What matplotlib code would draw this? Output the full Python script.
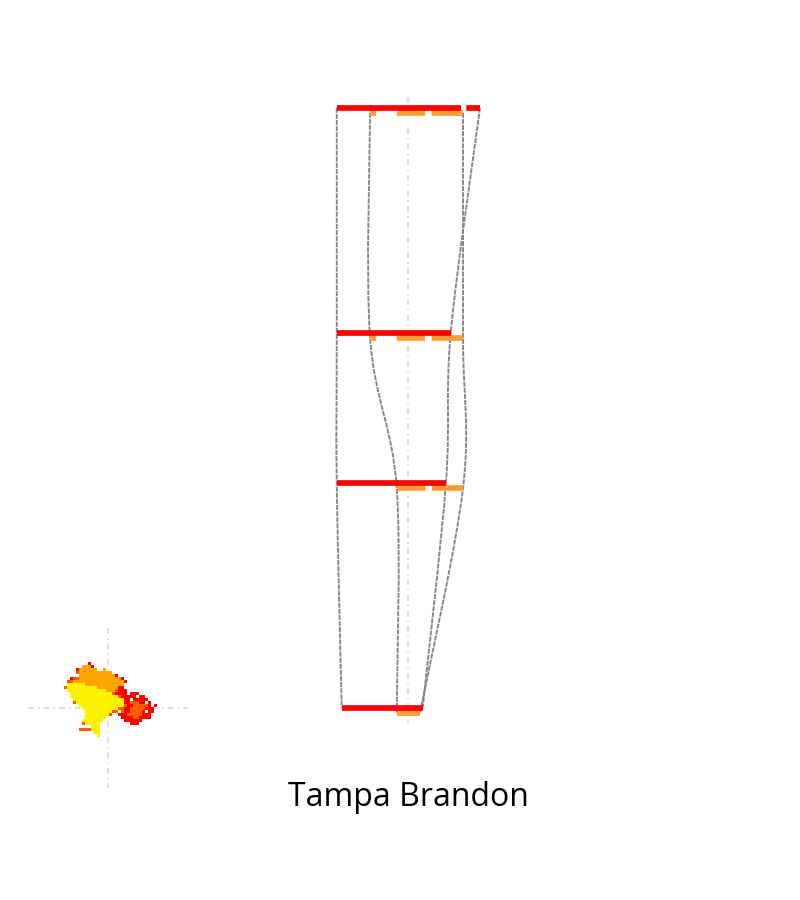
import numpy as np
import matplotlib
matplotlib.use("Agg")
import matplotlib.pyplot as plt
from matplotlib.path import Path
from matplotlib.patches import PathPatch
from matplotlib.colors import to_rgba

# dash lengths below are given in points, not multiples of the line width
plt.rcParams['lines.scale_dashes'] = False

station = "Tampa Brandon"

# four levels, each with a red range and an orange range
levels = [0, 15, 25, 40]
red_lo = [-4.75, -4.75, -4.75, -4.42]
red_hi = [4.80, 2.85, 2.53, 0.98]
orange_lo = [-2.53, -2.53, -0.75, -0.75]
orange_hi = [3.67, 3.67, 3.67, 0.80]

# small cell map drawn at the bottom level (R red, O orange-red, A orange, Y yellow)
map_rows = [
    "........R",
    "......AAAR",
    "....RAAAAAA..A",
    "....OAAAAAAAAAAA",
    ".....AAAAAAAAAAAAR",
    "..ROOAAAAAAAAAAAAAAR",
    ".OOAAAAAAAAAAAAAAAAAR",
    ".YYYYYYAAAAAAAAAAAAA",
    "OYYYYYYYYYYAAAAAAARR",
    ".YYYYYYYYYYYYYAAAORRR",
    "..YYYYYYYYYYYYYYORRRR.RRR",
    "..YYYYYYYYYYYYYYYYORRRRR.RR",
    "...YYYYYYYYYYYYYYYYYRR.RRRRR",
    "...OYYYYYYYYYYYYYYYYRROOORR.R",
    ".....YYYYYYYYYYYYYYYORROOOOOR.R",
    "......YYYYYYYYYYYYOORROOOOORRR",
    ".......YYYYYYYYYOO.ORROOOOR.RR",
    ".......YYYYYYYYO..RRROOOOORRR",
    ".......YYYYYYY.....RRRROORRRR",
    "......YYYYYYY.......RRRRRR",
    "......OYYYYY..........RRR",
    ".........YYY",
    ".....OOOOYYY",
    "..........YY",
    "...........Y",
]
map_colors = {'R': '#ff0000', 'O': '#ff5a00', 'A': '#ffa500', 'Y': '#fff200'}

PX = 1 / 15.0          # data units per pixel
orange_drop = 5 * PX   # orange bar sits a little under the red one
map_cx, map_cy = -20.03, 40
map_half = 80 * PX
cell = 3 * PX
guide_style = (0, (4.3, 2.9, 1.1, 2.9))


def smooth_path(xs, ys):
    # Catmull-Rom through the points, as cubic bezier segments
    pts = np.column_stack([xs, ys]).astype(float)
    ext = np.vstack([pts[0], pts, pts[-1]])
    verts = [pts[0]]
    codes = [Path.MOVETO]
    for i in range(len(pts) - 1):
        p0, p1, p2, p3 = ext[i], ext[i + 1], ext[i + 2], ext[i + 3]
        verts += [p1 + (p2 - p0) / 6, p2 - (p3 - p1) / 6, p2]
        codes += [Path.CURVE4] * 3
    return Path(verts, codes)


fig = plt.figure(figsize=(8, 9), dpi=100)
ax = fig.add_axes([0, 0, 1, 1])
ax.axis('off')

# centre guide
ax.plot([0, 0], [-0.7, 41.0], color='#dcdcdc', lw=1.3,
        linestyle=guide_style, zorder=0.5)

# connecting curves between levels
lev = np.array(levels, dtype=float)
edges = [
    (red_lo, lev),
    (orange_lo, lev + orange_drop),
    (orange_hi, lev + orange_drop),
    (red_hi, lev),
]
for xs, ys in edges:
    ax.add_patch(PathPatch(smooth_path(xs, ys), fill=False, edgecolor='#858585',
                           lw=1.35, linestyle=(0, (3.6, 0.8)), zorder=1))

# red ranges
for y, lo, hi in zip(levels, red_lo, red_hi):
    ax.plot([lo, hi], [y, y], color='#ff0000', lw=4.1, solid_capstyle='butt',
            linestyle=(0, (89.3, 3.8)), zorder=3)

# orange ranges, dash pattern kept in phase across levels
pattern_px = [28.3, 6.7, 31.6, 20.7]
anchor = -0.75
for y, lo, hi in zip(levels, orange_lo, orange_hi):
    off = ((lo - anchor) / PX) % sum(pattern_px) * 0.72
    ax.plot([lo, hi], [y + orange_drop, y + orange_drop], color='#ff9c33', lw=4.1,
            linestyle=(off, [p * 0.72 for p in pattern_px]), zorder=2)

# cell map with crosshair
ax.plot([map_cx - map_half, map_cx + map_half], [map_cy, map_cy], color='#dcdcdc',
        lw=1.3, linestyle=guide_style, zorder=0.5)
ax.plot([map_cx, map_cx], [map_cy - map_half, map_cy + map_half], color='#dcdcdc',
        lw=1.3, linestyle=guide_style, zorder=0.5)

ncol = max(len(r) for r in map_rows)
img = np.zeros((len(map_rows), ncol, 4))
for i, row in enumerate(map_rows):
    for j, ch in enumerate(row):
        if ch in map_colors:
            img[i, j] = to_rgba(map_colors[ch])
left = map_cx - 43.5 * PX
top = map_cy - 45.5 * PX
ax.imshow(img, extent=(left, left + ncol * cell, top + len(map_rows) * cell, top),
          origin='upper', interpolation='nearest', aspect='auto', zorder=2)

ax.set_xlim(-408 * PX, 392 * PX)
ax.set_ylim(792.2 * PX, -107.8 * PX)

fig.text(0.51, 0.1044, station, ha='center', va='baseline', fontsize=23,
         family=['Open Sans', 'DejaVu Sans'])

fig.savefig('out.png', dpi=100)
